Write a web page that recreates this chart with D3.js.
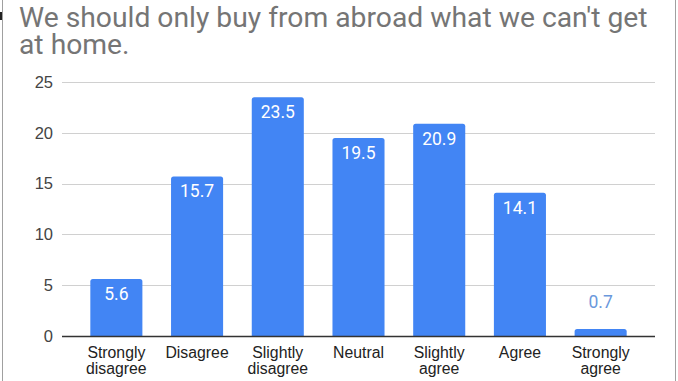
<!DOCTYPE html>
<html><head><meta charset="utf-8">
<script src="https://cdn.jsdelivr.net/npm/d3@7"></script>
<style>html,body{margin:0;padding:0;background:#fff;}svg{display:block;}</style>
</head><body>
<svg id="chart" width="678" height="381"></svg>
<script>
const categories = [["Strongly","disagree"],["Disagree"],["Slightly","disagree"],["Neutral"],["Slightly","agree"],["Agree"],["Strongly","agree"]];
const values = [5.6, 15.7, 23.5, 19.5, 20.9, 14.1, 0.7];
const yTicks = [0, 5, 10, 15, 20, 25];
const titleLines = ["We should only buy from abroad what we can't get", "at home."];

const svg = d3.select("#chart");
const W = 678, H = 381;
svg.append("rect").attr("width", W).attr("height", H).attr("fill", "#fff");
// frame lines
svg.append("line").attr("x1", 2.5).attr("x2", 2.5).attr("y1", 0).attr("y2", H).attr("stroke", "#a0a0a0");
svg.append("line").attr("x1", 675.5).attr("x2", 675.5).attr("y1", 0).attr("y2", H).attr("stroke", "#a0a0a0");
svg.append("rect").attr("x", 0).attr("y", 12).attr("width", 2).attr("height", 8).attr("fill", "#222");

// title
const titleG = svg.append("g");
titleG.selectAll("text").data(titleLines).join("text")
  .attr("x", 19).attr("y", (d, i) => 27 + i * 26.5)
  .attr("font-family", "Roboto, sans-serif").attr("font-size", 29)
  .attr("fill", "#757575").text(d => d);
const t0 = titleG.select("text").node();
const w0 = t0.getComputedTextLength();
if (Math.abs(w0 - 629) > 4) titleG.selectAll("text").attr("font-size", 29 * 629 / w0);

const x = d3.scaleBand().domain(d3.range(categories.length)).range([76, 641])
  .paddingInner(0.355).paddingOuter(0.1775);
const y = d3.scaleLinear().domain([0, 25]).range([336, 82]);

// grid
svg.append("g").selectAll("line").data(yTicks.filter(t => t > 0)).join("line")
  .attr("x1", 62).attr("x2", 655).attr("y1", d => Math.round(y(d)) + 0.5).attr("y2", d => Math.round(y(d)) + 0.5)
  .attr("stroke", "#d0d0d0");

// y axis labels
const yAxis = d3.axisLeft(y).tickValues(yTicks).tickSize(0).tickPadding(0).tickFormat(d3.format("d"));
const yg = svg.append("g").attr("transform", "translate(53,0)").call(yAxis);
yg.select(".domain").remove();
yg.selectAll("text").attr("font-family", "'Liberation Sans', Arial, sans-serif").attr("font-size", 16.5).attr("fill", "#444");

// bars
svg.append("g").selectAll("path").data(values).join("path")
  .attr("d", (d, i) => {
    const x0 = x(i), w = x.bandwidth(), y0 = y(d), y1 = y(0), r = Math.min(2.5, (y1 - y0) / 2);
    return `M${x0},${y1}V${y0 + r}Q${x0},${y0} ${x0 + r},${y0}H${x0 + w - r}Q${x0 + w},${y0} ${x0 + w},${y0 + r}V${y1}Z`;
  })
  .attr("fill", "#4285f4");

// value labels
svg.append("g").selectAll("text").data(values).join("text")
  .attr("x", (d, i) => x(i) + x.bandwidth() / 2)
  .attr("y", d => (y(0) - y(d) > 30) ? y(d) + 21 : y(d) - 21)
  .attr("text-anchor", "middle")
  .attr("font-family", "Roboto, sans-serif").attr("font-size", 17.5)
  .attr("fill", d => (y(0) - y(d) > 30) ? "#ffffff" : "#6a98dc")
  .text(d => d3.format(".1f")(d));

// baseline
svg.append("line").attr("x1", 62).attr("x2", 655).attr("y1", 336.5).attr("y2", 336.5).attr("stroke", "#333").attr("stroke-width", 1.3);

// x labels
const xg = svg.append("g");
categories.forEach((lines, i) => {
  const t = xg.append("text").attr("x", x(i) + x.bandwidth() / 2).attr("y", 357.5)
    .attr("text-anchor", "middle").attr("font-family", "'Liberation Sans', Arial, sans-serif")
    .attr("font-size", 15.8).attr("fill", "#222");
  lines.forEach((l, j) => t.append("tspan").attr("x", x(i) + x.bandwidth() / 2).attr("dy", j === 0 ? 0 : 16.5).text(l));
});
</script>
</body></html>
